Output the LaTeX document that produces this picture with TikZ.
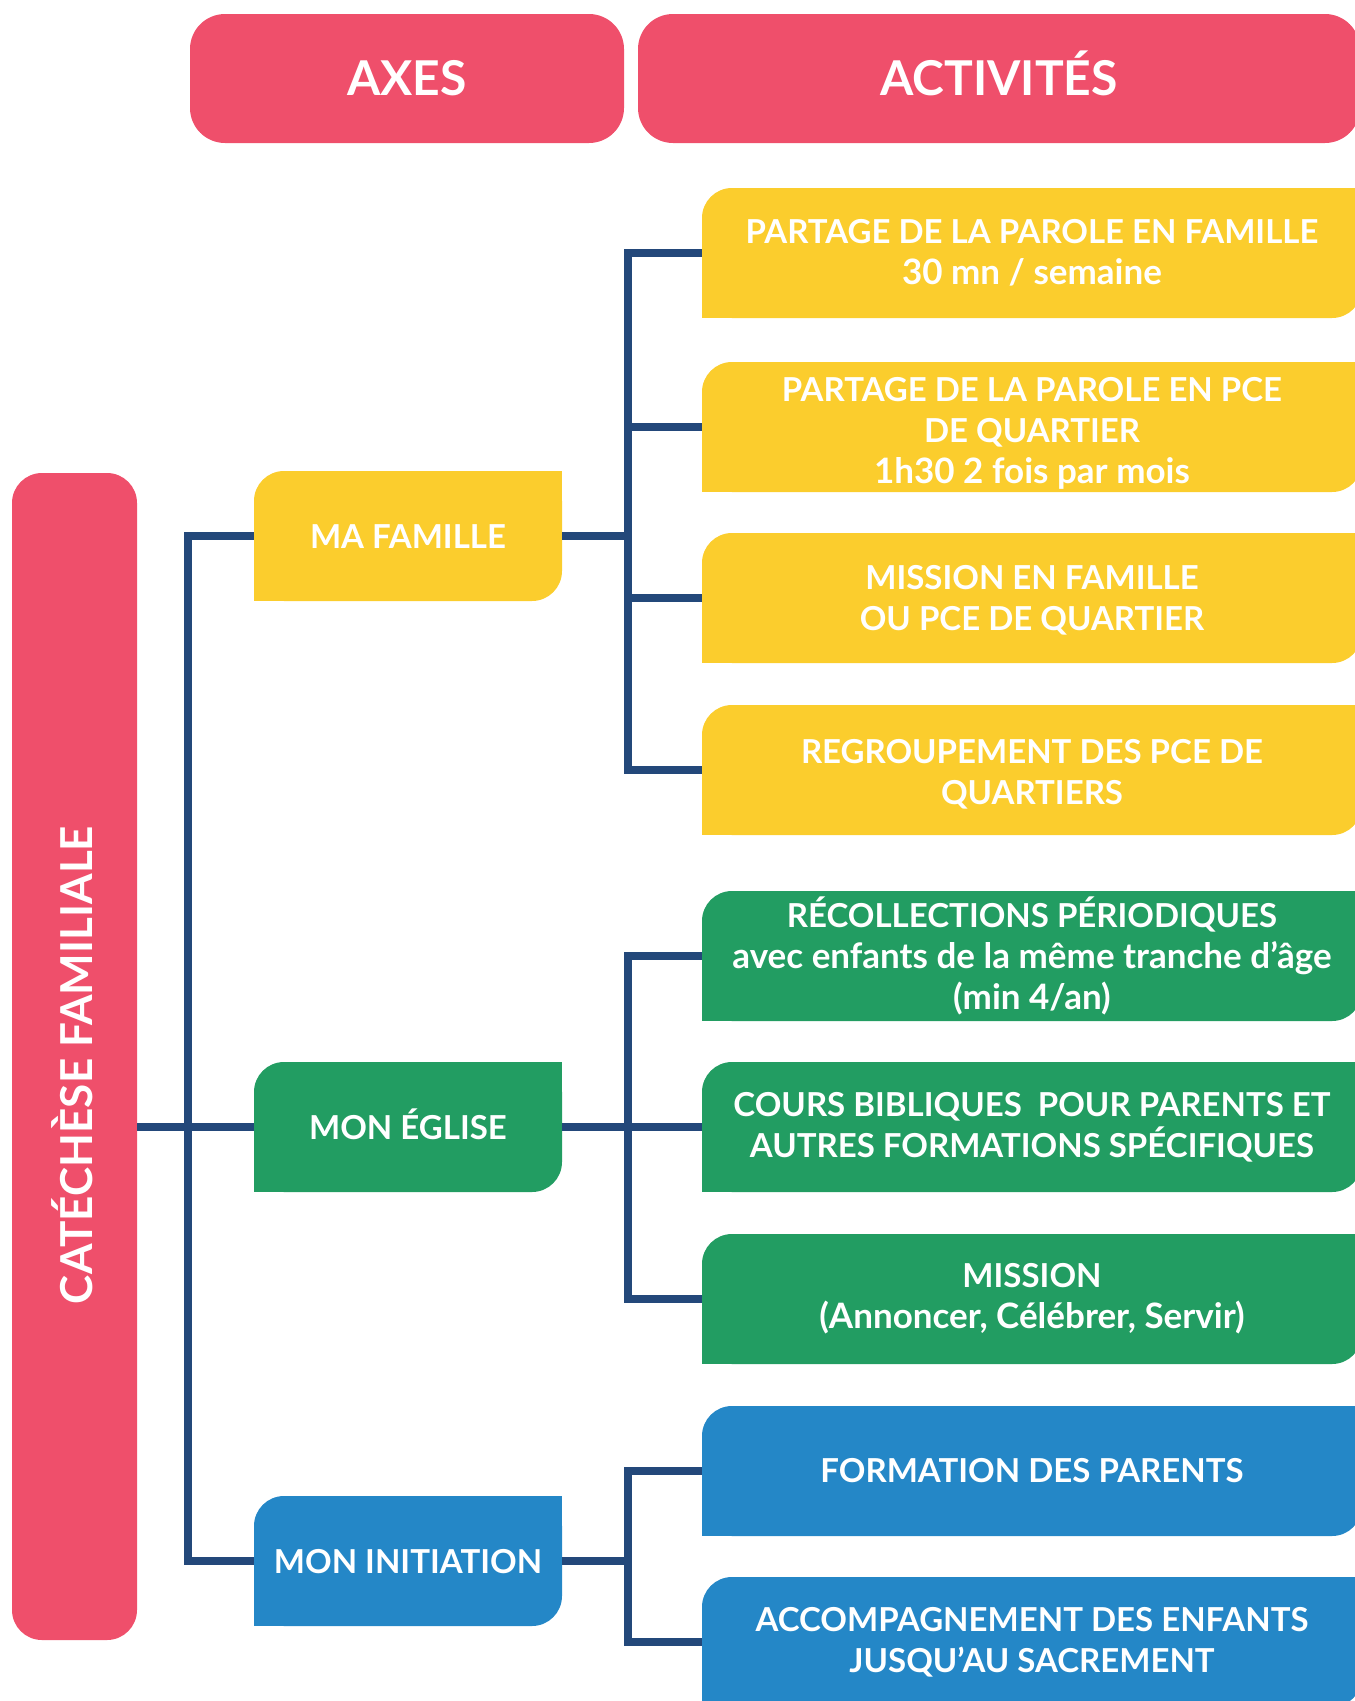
\documentclass[tikz,border=0pt]{standalone}
\usepackage{fontspec}
\setmainfont{Lato}
\usetikzlibrary{calc}
\definecolor{cred}{RGB}{239,79,107}
\definecolor{cyel}{RGB}{251,205,45}
\definecolor{cgrn}{RGB}{34,157,98}
\definecolor{cblu}{RGB}{36,135,199}
\definecolor{navy}{RGB}{35,72,122}
\def\bxr{30pt}
\newcommand\lcl[1]{{\fontsize{35}{41}\selectfont #1}}
\tikzset{
 shapeTB/.style={path picture={
   \fill[#1,rounded corners=\bxr] (path picture bounding box.south west) rectangle (path picture bounding box.north east);
   \fill[#1] (path picture bounding box.north east) rectangle ++(-32pt,-32pt);
   \fill[#1] (path picture bounding box.south west) rectangle ++(32pt,32pt);
 }},
 axbox/.style={shapeTB=#1, minimum width=308pt, minimum height=130pt, inner sep=0pt, text=white, font=\fontsize{33}{40}\selectfont\bfseries, text height=24pt, text depth=0pt},
 actbox/.style={shapeTB=#1, minimum width=660pt, minimum height=130pt, inner sep=0pt, text=white, font=\fontsize{33}{41}\selectfont\bfseries, align=center},
 head/.style={fill=cred, rounded corners=35pt, minimum height=129pt, inner sep=0pt, text=white, font=\fontsize{48}{50}\selectfont\bfseries, text height=34pt, text depth=0pt},
 conn/.style={draw=navy, line width=7.5pt}
}
\begin{document}
\begin{tikzpicture}[x=1pt,y=1pt]
\useasboundingbox (0,0) rectangle (1355,-1701);
\clip (0,0) rectangle (1355,-1701);
% headers
\node[head, minimum width=434pt] (axes) at (407,-78.5) {AXES};
\node[head, minimum width=722pt] (activites) at (999,-78.5) {ACTIVITÉS};
% left column
\node[fill=cred, rounded corners=30pt, minimum width=125pt, minimum height=1167pt, inner sep=0pt] (cat) at (74.5,-1056.5) {};
\node[rotate=90, text=white, font=\fontsize{44}{46}\selectfont\bfseries, text height=31pt, text depth=0pt] (catlabel) at (77,-1065) {CATÉCHÈSE FAMILIALE};
% axes
\node[axbox=cyel] (f) at (408,-536) {MA FAMILLE};
\node[axbox=cgrn] (e) at (408,-1127) {MON ÉGLISE};
\node[axbox=cblu] (i) at (408,-1561) {MON INITIATION};
% activities
\node[actbox=cyel] (a1) at (1032,-253) {PARTAGE DE LA PAROLE EN FAMILLE\\\lcl{30 mn / semaine}};
\node[actbox=cyel] (a2) at (1032,-427) {\rule{0pt}{37pt}PARTAGE DE LA PAROLE EN PCE\\DE QUARTIER\\\lcl{1h30 2 fois par mois}};
\node[actbox=cyel] (a3) at (1032,-598) {\rule{0pt}{28pt}MISSION EN FAMILLE\\OU PCE DE QUARTIER};
\node[actbox=cyel] (a4) at (1032,-770) {\rule{0pt}{32pt}REGROUPEMENT DES PCE DE\\QUARTIERS};
\node[actbox=cgrn] (a5) at (1032,-956) {RÉCOLLECTIONS PÉRIODIQUES\\\lcl{avec enfants de la même tranche d’âge}\\\lcl{(min 4/an)}};
\node[actbox=cgrn] (a6) at (1032,-1127) {COURS BIBLIQUES~ POUR PARENTS ET\\AUTRES FORMATIONS SPÉCIFIQUES};
\node[actbox=cgrn] (a7) at (1032,-1299) {MISSION\\\lcl{(Annoncer, Célébrer, Servir)}};
\node[actbox=cblu] (a8) at (1032,-1471) {FORMATION DES PARENTS};
\node[actbox=cblu] (a9) at (1032,-1642) {ACCOMPAGNEMENT DES ENFANTS\\JUSQU’AU SACREMENT};
% connectors
\coordinate (t1) at (628,0);
\coordinate (t0) at (188,-1000);
\foreach \a in {a1,a2,a3,a4} \draw[conn] (f.east) -- (f.east -| t1) |- (\a.west);
\foreach \a in {a5,a6,a7} \draw[conn] (e.east) -- (e.east -| t1) |- (\a.west);
\foreach \a in {a8,a9} \draw[conn] (i.east) -- (i.east -| t1) |- (\a.west);
\draw[conn] (cat.east |- e.west) -- (e.west);
\draw[conn] (f.west) -| (t0) |- (i.west);
\end{tikzpicture}
\end{document}
